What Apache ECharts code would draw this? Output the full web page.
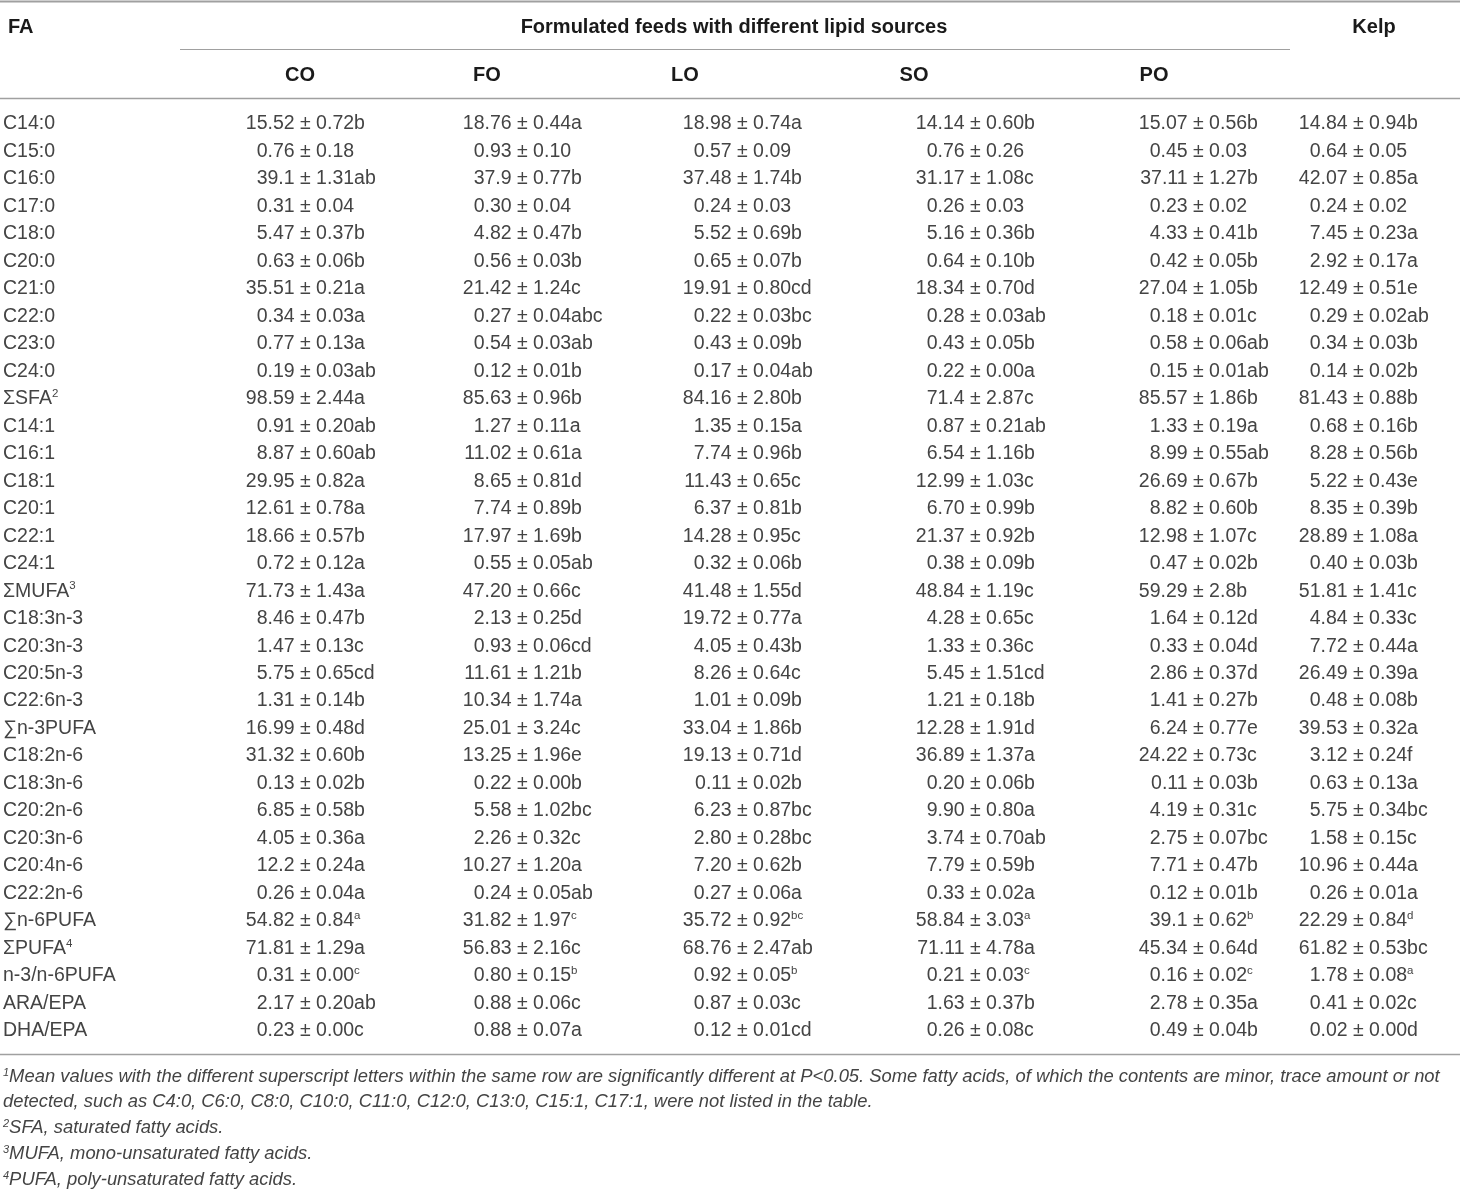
<!DOCTYPE html>
<html>
<head>
<meta charset="utf-8">
<title>Fatty acid composition</title>
<script src="https://cdn.jsdelivr.net/npm/echarts@6/dist/echarts.min.js"></script>
<style>
  html, body { margin: 0; padding: 0; background: #fff; }
  #main { width: 1460px; height: 1191px; }
</style>
</head>
<body>
<div id="main"></div>
<script>
// row labels (FA column) and footnote marks on the sums
const rowNames = [
  'C14:0', 'C15:0', 'C16:0', 'C17:0', 'C18:0', 'C20:0', 'C21:0', 'C22:0', 'C23:0', 'C24:0',
  'ΣSFA', 'C14:1', 'C16:1', 'C18:1', 'C20:1', 'C22:1', 'C24:1', 'ΣMUFA',
  'C18:3n-3', 'C20:3n-3', 'C20:5n-3', 'C22:6n-3', '∑n-3PUFA',
  'C18:2n-6', 'C18:3n-6', 'C20:2n-6', 'C20:3n-6', 'C20:4n-6', 'C22:2n-6', '∑n-6PUFA',
  'ΣPUFA', 'n-3/n-6PUFA', 'ARA/EPA', 'DHA/EPA'
];
const rowNotes = { 'ΣSFA': '2', 'ΣMUFA': '3', 'ΣPUFA': '4' };

const feedNames = ['CO', 'FO', 'LO', 'SO', 'PO'];

// mean, sd and significance letters ('^' = printed as superscript)
const coMean = ['15.52','0.76','39.1','0.31','5.47','0.63','35.51','0.34','0.77','0.19','98.59','0.91','8.87','29.95','12.61','18.66','0.72','71.73','8.46','1.47','5.75','1.31','16.99','31.32','0.13','6.85','4.05','12.2','0.26','54.82','71.81','0.31','2.17','0.23'];
const coSd   = ['0.72','0.18','1.31','0.04','0.37','0.06','0.21','0.03','0.13','0.03','2.44','0.20','0.60','0.82','0.78','0.57','0.12','1.43','0.47','0.13','0.65','0.14','0.48','0.60','0.02','0.58','0.36','0.24','0.04','0.84','1.29','0.00','0.20','0.00'];
const coSig  = ['b','','ab','','b','b','a','a','a','ab','a','ab','ab','a','a','b','a','a','b','c','cd','b','d','b','b','b','a','a','a','^a','a','^c','ab','c'];

const foMean = ['18.76','0.93','37.9','0.30','4.82','0.56','21.42','0.27','0.54','0.12','85.63','1.27','11.02','8.65','7.74','17.97','0.55','47.20','2.13','0.93','11.61','10.34','25.01','13.25','0.22','5.58','2.26','10.27','0.24','31.82','56.83','0.80','0.88','0.88'];
const foSd   = ['0.44','0.10','0.77','0.04','0.47','0.03','1.24','0.04','0.03','0.01','0.96','0.11','0.61','0.81','0.89','1.69','0.05','0.66','0.25','0.06','1.21','1.74','3.24','1.96','0.00','1.02','0.32','1.20','0.05','1.97','2.16','0.15','0.06','0.07'];
const foSig  = ['a','','b','','b','b','c','abc','ab','b','b','a','a','d','b','b','ab','c','d','cd','b','a','c','e','b','bc','c','a','ab','^c','c','^b','c','a'];

const loMean = ['18.98','0.57','37.48','0.24','5.52','0.65','19.91','0.22','0.43','0.17','84.16','1.35','7.74','11.43','6.37','14.28','0.32','41.48','19.72','4.05','8.26','1.01','33.04','19.13','0.11','6.23','2.80','7.20','0.27','35.72','68.76','0.92','0.87','0.12'];
const loSd   = ['0.74','0.09','1.74','0.03','0.69','0.07','0.80','0.03','0.09','0.04','2.80','0.15','0.96','0.65','0.81','0.95','0.06','1.55','0.77','0.43','0.64','0.09','1.86','0.71','0.02','0.87','0.28','0.62','0.06','0.92','2.47','0.05','0.03','0.01'];
const loSig  = ['a','','b','','b','b','cd','bc','b','ab','b','a','b','c','b','c','b','d','a','b','c','b','b','d','b','bc','bc','b','a','^bc','ab','^b','c','cd'];

const soMean = ['14.14','0.76','31.17','0.26','5.16','0.64','18.34','0.28','0.43','0.22','71.4','0.87','6.54','12.99','6.70','21.37','0.38','48.84','4.28','1.33','5.45','1.21','12.28','36.89','0.20','9.90','3.74','7.79','0.33','58.84','71.11','0.21','1.63','0.26'];
const soSd   = ['0.60','0.26','1.08','0.03','0.36','0.10','0.70','0.03','0.05','0.00','2.87','0.21','1.16','1.03','0.99','0.92','0.09','1.19','0.65','0.36','1.51','0.18','1.91','1.37','0.06','0.80','0.70','0.59','0.02','3.03','4.78','0.03','0.37','0.08'];
const soSig  = ['b','','c','','b','b','d','ab','b','a','c','ab','b','c','b','b','b','c','c','c','cd','b','d','a','b','a','ab','b','a','^a','a','^c','b','c'];

const poMean = ['15.07','0.45','37.11','0.23','4.33','0.42','27.04','0.18','0.58','0.15','85.57','1.33','8.99','26.69','8.82','12.98','0.47','59.29','1.64','0.33','2.86','1.41','6.24','24.22','0.11','4.19','2.75','7.71','0.12','39.1','45.34','0.16','2.78','0.49'];
const poSd   = ['0.56','0.03','1.27','0.02','0.41','0.05','1.05','0.01','0.06','0.01','1.86','0.19','0.55','0.67','0.60','1.07','0.02','2.8','0.12','0.04','0.37','0.27','0.77','0.73','0.03','0.31','0.07','0.47','0.01','0.62','0.64','0.02','0.35','0.04'];
const poSig  = ['b','','b','','b','b','b','c','ab','ab','b','a','ab','b','b','c','b','b','d','d','d','b','e','c','b','c','bc','b','b','^b','d','^c','a','b'];

const kelpMean = ['14.84','0.64','42.07','0.24','7.45','2.92','12.49','0.29','0.34','0.14','81.43','0.68','8.28','5.22','8.35','28.89','0.40','51.81','4.84','7.72','26.49','0.48','39.53','3.12','0.63','5.75','1.58','10.96','0.26','22.29','61.82','1.78','0.41','0.02'];
const kelpSd   = ['0.94','0.05','0.85','0.02','0.23','0.17','0.51','0.02','0.03','0.02','0.88','0.16','0.56','0.43','0.39','1.08','0.03','1.41','0.33','0.44','0.39','0.08','0.32','0.24','0.13','0.34','0.15','0.44','0.01','0.84','0.53','0.08','0.02','0.00'];
const kelpSig  = ['b','','a','','a','a','e','ab','b','b','b','b','b','e','b','a','b','c','c','a','a','b','a','f','a','bc','c','a','a','^d','bc','^a','c','d'];

const footnotes = [
  ['1', 'Mean values with the different superscript letters within the same row are significantly different at P<0.05. Some fatty acids, of which the contents are minor, trace amount or not'],
  ['', 'detected, such as C4:0, C6:0, C8:0, C10:0, C11:0, C12:0, C13:0, C15:1, C17:1, were not listed in the table.'],
  ['2', 'SFA, saturated fatty acids.'],
  ['3', 'MUFA, mono-unsaturated fatty acids.'],
  ['4', 'PUFA, poly-unsaturated fatty acids.']
];

// ---- layout ----
const W = 1460;
const FONT = '"Liberation Sans", Arial, Helvetica, sans-serif';
const TXT = '#444';
const HEAD = '#1a1a1a';
const RULE = '#a0a0a0';
const FS = 19.5;
const rowTop = 110.3, rowH = 27.48;
const colPm = [300, 517, 737, 970, 1193, 1353]; // x of the "±" per data column
const subHeadX = [300, 487, 685, 914, 1154];

const columns = [
  { mean: coMean, sd: coSd, sig: coSig },
  { mean: foMean, sd: foSd, sig: foSig },
  { mean: loMean, sd: loSd, sig: loSig },
  { mean: soMean, sd: soSd, sig: soSig },
  { mean: poMean, sd: poSd, sig: poSig },
  { mean: kelpMean, sd: kelpSd, sig: kelpSig }
];

const cells = [];
columns.forEach((col, c) => {
  col.mean.forEach((m, r) => cells.push([c, r]));
});

const cellRich = {
  t: { fontSize: FS, fontFamily: FONT, fill: TXT, lineHeight: 22 },
  s: { fontSize: 11.5, fontFamily: FONT, fill: TXT, verticalAlign: 'top', lineHeight: 22 }
};

function renderCell(params, api) {
  const c = api.value(0);
  const r = api.value(1);
  const col = columns[c];
  const pt = api.coord([colPm[c], r]);
  const sig = col.sig[r];
  let right = '{t|± ' + col.sd[r];
  if (sig.charAt(0) === '^') right += '}{s|' + sig.slice(1) + '}';
  else right += sig + '}';
  return {
    type: 'group',
    children: [
      {
        type: 'text',
        style: {
          text: col.mean[r], x: pt[0] - 5.4, y: pt[1],
          textAlign: 'right', textVerticalAlign: 'middle',
          fontSize: FS, fontFamily: FONT, fill: TXT
        }
      },
      {
        type: 'text',
        style: {
          text: right, x: pt[0], y: pt[1],
          textAlign: 'left', textVerticalAlign: 'middle',
          rich: cellRich
        }
      }
    ]
  };
}

function label(text, x, y, opts) {
  return {
    type: 'text', silent: true,
    style: Object.assign({
      text: text, x: x, y: y, textAlign: 'center', textVerticalAlign: 'middle',
      fontSize: 20, fontWeight: 'bold', fontFamily: FONT, fill: HEAD
    }, opts || {})
  };
}
function rule(x1, x2, y, w) {
  return { type: 'line', silent: true, shape: { x1: x1, y1: y, x2: x2, y2: y }, style: { stroke: RULE, lineWidth: w || 1.5 } };
}

const graphics = [
  rule(0, W, 1.5, 2),
  label('FA', 8, 27, { textAlign: 'left' }),
  label('Formulated feeds with different lipid sources', 734, 27),
  label('Kelp', 1374, 27),
  rule(180, 1290, 49.5, 1.2),
  rule(0, W, 98.5, 1.5),
  rule(0, W, 1054.5, 1.5)
];
feedNames.forEach((name, i) => graphics.push(label(name, subHeadX[i], 75)));
footnotes.forEach((fn, i) => {
  const y = [1077, 1102, 1128, 1154, 1180][i];
  graphics.push({
    type: 'text', silent: true,
    style: {
      text: (fn[0] ? '{s|' + fn[0] + '}' : '') + '{t|' + fn[1] + '}',
      x: 3, y: y, textAlign: 'left', textVerticalAlign: 'middle',
      rich: {
        t: { fontSize: 18.4, fontStyle: 'italic', fontFamily: FONT, fill: TXT, lineHeight: 20 },
        s: { fontSize: 11, fontStyle: 'italic', fontFamily: FONT, fill: TXT, verticalAlign: 'top', lineHeight: 20 }
      }
    }
  });
});

const chart = echarts.init(document.getElementById('main'), null, { renderer: 'canvas' });
chart.setOption({
  animation: false,
  backgroundColor: '#fff',
  grid: { left: 0, right: 0, top: rowTop, height: rowH * rowNames.length },
  xAxis: { type: 'value', min: 0, max: W, show: false },
  yAxis: {
    type: 'category',
    data: rowNames,
    inverse: true,
    axisLine: { show: false },
    axisTick: { show: false },
    splitLine: { show: false },
    axisLabel: {
      align: 'left',
      margin: -3,
      interval: 0,
      formatter: (v) => '{n|' + v + '}' + (rowNotes[v] ? '{s|' + rowNotes[v] + '}' : ''),
      rich: {
        n: { fontSize: FS, fontFamily: FONT, color: TXT, lineHeight: 22 },
        s: { fontSize: 11.5, fontFamily: FONT, color: TXT, verticalAlign: 'top', lineHeight: 22 }
      }
    }
  },
  series: [{
    type: 'custom',
    coordinateSystem: 'cartesian2d',
    renderItem: renderCell,
    data: cells,
    silent: true
  }],
  graphic: graphics
});
</script>
</body>
</html>
